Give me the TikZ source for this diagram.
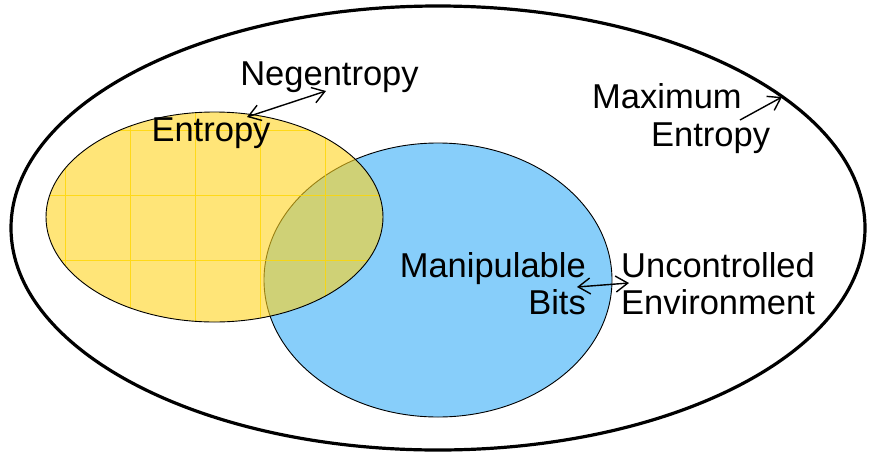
\documentclass[tikz,border=0pt]{standalone}
\usepackage{fontspec}
\setmainfont{Liberation Sans}
\usetikzlibrary{arrows.meta}
\definecolor{skyb}{RGB}{135,206,250}
\definecolor{yelf}{RGB}{255,212,30}
\definecolor{gridy}{RGB}{255,215,0}
\tikzset{
  lbl/.style={inner sep=0pt, font=\fontsize{34.5}{38}\selectfont},
  conn/.style={line width=1.4pt, {Straight Barb[length=12pt,width=16pt]}-{Straight Barb[length=12pt,width=16pt]}},
  conn1/.style={line width=1.4pt, -{Straight Barb[length=12pt,width=16pt]}},
}
\begin{document}
\begin{tikzpicture}[x=1pt,y=-1pt]
\useasboundingbox (0,0) rectangle (869,453);
\fill[white] (0,0) rectangle (869,453);
% outer ellipse
\draw[line width=3.2pt] (438,228) ellipse [x radius=427, y radius=222];
% blue ellipse
\fill[skyb] (438,280) ellipse [x radius=174, y radius=137];
\draw[line width=0.9pt] (438,280) ellipse [x radius=174, y radius=137];
% yellow ellipse (semi-transparent)
\fill[yelf, fill opacity=0.6] (214.5,217) ellipse [x radius=168.5, y radius=105];
\begin{scope}
  \clip (214.5,217) ellipse [x radius=168.5, y radius=105];
  \draw[gridy, line width=0.8pt, opacity=0.8] (46,110) grid[step=65pt] (390,330);
\end{scope}
\draw[line width=0.9pt] (214.5,217) ellipse [x radius=168.5, y radius=105];
% labels
\node[lbl, anchor=base] (neg) at (329.5,85) {Negentropy};
\node[lbl, anchor=base] (ent) at (211,141) {Entropy};
\node[lbl, anchor=base west] (maxa) at (592,108) {Maximum};
\node[lbl, anchor=base west] (maxb) at (651,146) {Entropy};
\node[lbl, anchor=base east] (manip) at (586,277) {Manipulable};
\node[lbl, anchor=base east] (bits) at (586,314) {Bits};
\node[lbl, anchor=base west] (unc) at (621,277) {Uncontrolled};
\node[lbl, anchor=base west] (env) at (621,314) {Environment};
% connector end points
\coordinate (a1) at (247,117);
\coordinate (a2) at (326,91);
\coordinate (b1) at (577,287);
\coordinate (b2) at (629,283);
\coordinate (c1) at (740,120);
\coordinate (c2) at (782,97);
\draw[conn] (a1) -- (a2);
\draw[conn] (b1) -- (b2);
\draw[conn1] (c1) -- (c2);
\end{tikzpicture}
\end{document}
